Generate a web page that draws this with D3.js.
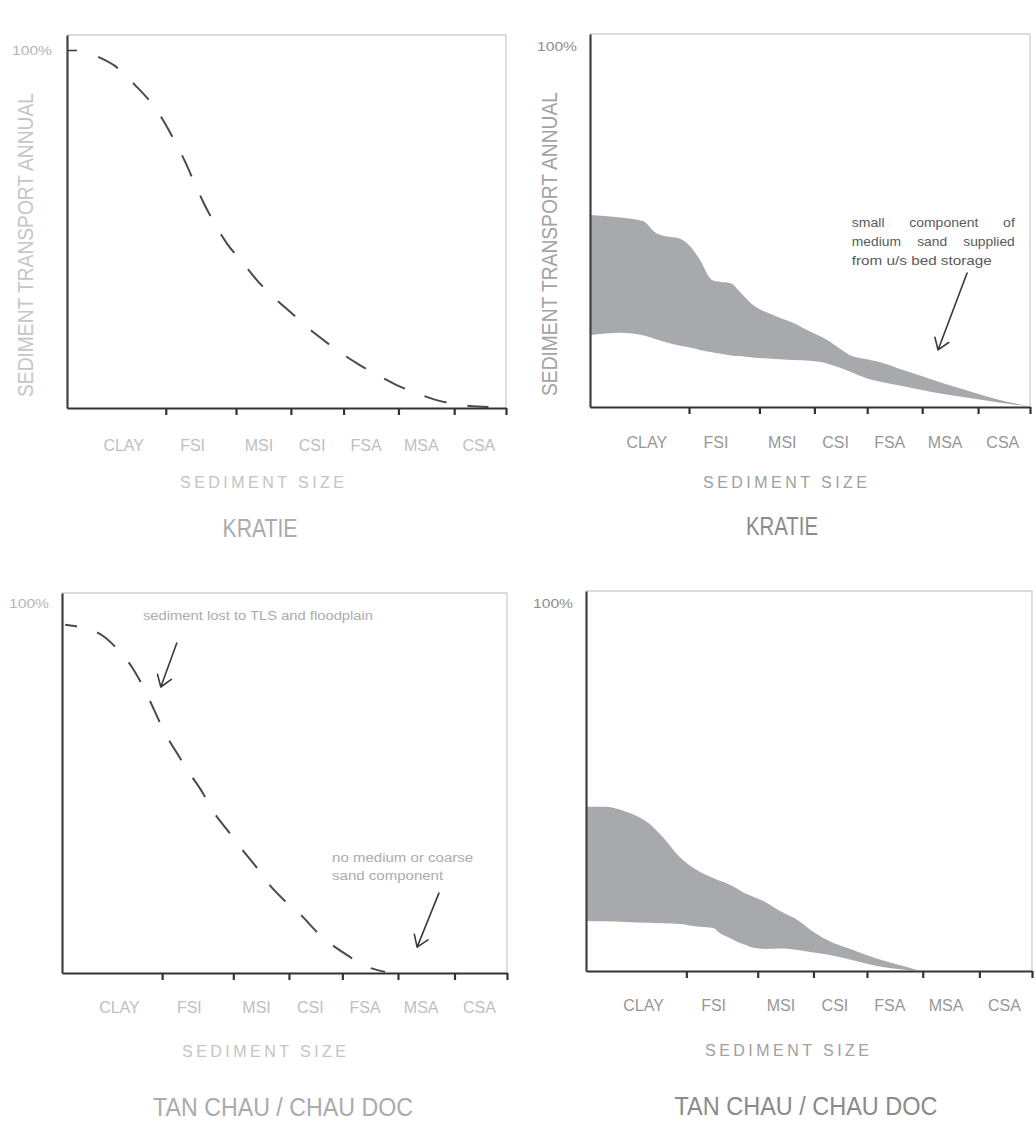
<!DOCTYPE html>
<html>
<head>
<meta charset="utf-8">
<script src="https://cdn.jsdelivr.net/npm/d3@7/dist/d3.min.js"></script>
<style>
  body { margin: 0; background: #fff; }
  svg text { font-family: "Liberation Sans", Arial, Helvetica, sans-serif; }
</style>
</head>
<body>
<svg id="chart" width="1036" height="1135"></svg>
<script>
// sediment size classes (x is a relative size scale 0..10)
const sizeClasses = ['CLAY', 'FSI', 'MSI', 'CSI', 'FSA', 'MSA', 'CSA'];
const classCentres = [1.28, 2.85, 4.36, 5.57, 6.8, 8.06, 9.37];
const classBreaks = [2.25, 3.85, 5.1, 6.3, 7.55, 8.82, 10];

// Kratie – natural annual transport (% by size), dashed
const kratieNatX = [0.71, 1.1, 1.55, 1.9, 2.19, 2.45, 2.69, 2.9, 3.1, 3.35, 3.64, 4.0, 4.32, 4.7, 5.08, 5.45, 5.84, 6.25, 6.67, 7.1, 7.51, 7.95, 8.42, 8.9, 9.37, 9.6];
const kratieNatY = [98.1, 95.5, 90.2, 85.5, 80.4, 74.6, 68.8, 63, 57.6, 51.8, 46.0, 40.7, 35.8, 31.0, 26.9, 22.8, 19.0, 15.3, 12.0, 9.0, 6.4, 4.2, 2.2, 1.0, 0.4, 0.3];

// Kratie – future range (band)
const kratieBandX  = [0, 0.7, 1.2, 1.5, 1.75, 2.0, 2.3, 2.5, 2.77, 2.95, 3.2, 3.4, 3.7, 4.2, 4.6, 5.0, 5.4, 5.7, 5.9, 6.3, 6.6, 7.1, 7.8, 8.4, 9.0, 9.5, 10];
const kratieBandHi = [53.2, 52.5, 51.5, 48.2, 47.2, 46.8, 44.2, 40.7, 35.2, 34.7, 34.3, 32.0, 28.3, 25.3, 23.4, 20.9, 18.5, 16.0, 14.4, 13.2, 12.4, 10.3, 7.5, 5.2, 3.0, 1.4, 0.2];
const kratieBandLo = [19.9, 20.6, 19.9, 18.8, 17.9, 17.1, 16.4, 15.8, 15.2, 14.8, 14.3, 14.1, 13.7, 13.3, 13.0, 12.8, 12.0, 10.8, 9.8, 7.9, 7.0, 5.8, 4.1, 2.9, 1.8, 0.9, 0.2];

// Tan Chau / Chau Doc – natural annual transport, dashed
const tanChauNatX = [0.07, 0.81, 1.24, 1.57, 1.84, 2.07, 2.29, 2.58, 2.85, 3.15, 3.39, 3.73, 4.02, 4.38, 4.65, 5.06, 5.39, 5.73, 6.07, 6.4, 6.76, 7.26];
const tanChauNatY = [94.1, 91.9, 87.6, 82.7, 77.0, 71.1, 65.4, 59.5, 54.3, 48.9, 43.8, 38.4, 33.8, 28.4, 24.0, 18.9, 15.4, 11.1, 7.6, 4.9, 2.2, 0.3];

// Tan Chau / Chau Doc – future range (band)
const tanChauBandX  = [0, 0.4, 0.9, 1.4, 1.75, 2.1, 2.55, 2.85, 3.0, 3.25, 3.4, 3.6, 3.75, 4.0, 4.35, 4.75, 5.1, 5.5, 5.85, 6.3, 6.8, 7.2, 7.45];
const tanChauBandHi = [44.6, 44.6, 43.3, 40.2, 36.0, 31.0, 27.0, 25.3, 24.5, 23.3, 22.3, 20.9, 20.2, 18.9, 16.3, 13.8, 10.6, 7.9, 6.3, 4.3, 2.4, 1.1, 0.2];
const tanChauBandLo = [13.6, 13.5, 13.3, 13.1, 13.0, 12.8, 12.0, 11.7, 10.3, 8.8, 7.9, 7.0, 6.3, 6.0, 6.1, 5.7, 5.0, 4.3, 3.3, 2.0, 0.8, 0.3, 0.2];

const tones = {
  light: { tick: '#c0c0c0', size: '#c4c4c4', title: '#ababab', yTitle: '#c6c6c6', pct: '#b5b5b5' },
  dark:  { tick: '#979797', size: '#a0a0a0', title: '#8a8a8a', yTitle: '#a3a3a3', pct: '#8c8c8c' }
};

const panels = [
  { x0: 67, x1: 506, top: 35, bottom: 408, y100: 50, tick100: true, tone: 'light',
    kind: 'line', xs: kratieNatX, ys: kratieNatY, dashOffset: 0,
    tickPad: 43, sizeY: 488, sizeX: 262, title: 'KRATIE', titleX: 260, titleY: 537, titleW: 75,
    yTitle: { x: 33, y: 245 },
    notes: [] },
  { x0: 590, x1: 1030, top: 34, bottom: 407, y100: 46, tick100: false, tone: 'dark',
    kind: 'band', xs: kratieBandX, hi: kratieBandHi, lo: kratieBandLo,
    tickPad: 41, sizeY: 488, sizeX: 785, title: 'KRATIE', titleX: 782, titleY: 535, titleW: 72,
    yTitle: { x: 557, y: 244 },
    notes: [
      { lines: ['small component of', 'medium sand supplied', 'from u/s bed storage'],
        widths: [163, 163, 140], wordSpacing: [20, 12, 0], x: 5.95, y: [49.9, 44.6, 39.3], size: 13.5, color: '#5a5a5a',
        arrow: [[8.57, 37.1], [7.91, 15.8]] }
    ] },
  { x0: 62, x1: 507, top: 593, bottom: 973, y100: 603, tick100: false, tone: 'light',
    kind: 'line', xs: tanChauNatX, ys: tanChauNatY, dashOffset: 11,
    tickPad: 40, sizeY: 1057, sizeX: 264, title: 'TAN CHAU / CHAU DOC', titleX: 283, titleY: 1116, titleW: 260,
    yTitle: null,
    notes: [
      { lines: ['sediment lost to TLS and floodplain'], widths: [230], wordSpacing: [0],
        x: 1.82, y: [95.4], size: 12.5, color: '#ababab', arrow: [[2.58, 89.2], [2.22, 77.3]] },
      { lines: ['no medium or coarse', 'sand component'], widths: [141, 111], wordSpacing: [0, 0],
        x: 6.07, y: [30.0, 25.1], size: 12.5, color: '#ababab', arrow: [[8.47, 21.6], [7.98, 7.0]] }
    ] },
  { x0: 586, x1: 1032, top: 591, bottom: 971, y100: 603, tick100: false, tone: 'dark',
    kind: 'band', xs: tanChauBandX, hi: tanChauBandHi, lo: tanChauBandLo,
    tickPad: 40, sizeY: 1056, sizeX: 787, title: 'TAN CHAU / CHAU DOC', titleX: 806, titleY: 1115, titleW: 263,
    yTitle: null,
    notes: [] }
];

const svg = d3.select('#chart');

function arrow(g, from, to) {
  const ang = Math.atan2(from[1] - to[1], from[0] - to[0]);
  const len = 13, spread = 0.6;
  const a1 = [to[0] + len * Math.cos(ang - spread), to[1] + len * Math.sin(ang - spread)];
  const a2 = [to[0] + len * Math.cos(ang + spread), to[1] + len * Math.sin(ang + spread)];
  g.append('path')
    .attr('d', `M${from}L${to}M${a1}L${to}L${a2}`)
    .attr('fill', 'none').attr('stroke', '#3a3a3a').attr('stroke-width', 1.6)
    .attr('stroke-linecap', 'round').attr('stroke-linejoin', 'round');
}

function drawPanel(p) {
  const tone = tones[p.tone];
  const g = svg.append('g');
  const x = d3.scaleLinear().domain([0, 10]).range([p.x0, p.x1]);
  const y = d3.scaleLinear().domain([0, 100]).range([p.bottom, p.y100]);

  // light frame (top + right)
  g.append('path')
    .attr('d', `M${p.x0},${p.top}H${p.x1}V${p.bottom}`)
    .attr('fill', 'none').attr('stroke', '#cfcfcf').attr('stroke-width', 1.3);

  // data mark
  if (p.kind === 'band') {
    const area = d3.area()
      .x((d, i) => x(p.xs[i]))
      .y0((d, i) => y(p.lo[i]))
      .y1((d, i) => y(p.hi[i]))
      .curve(d3.curveMonotoneX);
    g.append('path').datum(p.xs).attr('d', area).attr('fill', '#a8a9ad');
  } else {
    const line = d3.line()
      .x((d, i) => x(p.xs[i]))
      .y((d, i) => y(p.ys[i]))
      .curve(d3.curveMonotoneX);
    g.append('path').datum(p.xs).attr('d', line)
      .attr('fill', 'none').attr('stroke', '#4a4a4a').attr('stroke-width', 2)
      .attr('stroke-dasharray', '23,21').attr('stroke-dashoffset', p.dashOffset);
  }

  // left axis
  const yAxisScale = d3.scaleLinear().domain([0, y.invert(p.top)]).range([p.bottom, p.top]);
  const yAxis = g.append('g').attr('transform', `translate(${p.x0},0)`)
    .call(d3.axisLeft(yAxisScale).tickValues([100]).tickSizeOuter(0)
      .tickSizeInner(p.tick100 ? -10 : 0).tickPadding(p.tick100 ? 15 : 13)
      .tickFormat(d => d + '%'));
  yAxis.select('.domain').attr('stroke', '#404040').attr('stroke-width', 2.2);
  yAxis.selectAll('.tick line').attr('stroke', '#404040').attr('stroke-width', 1.6);
  yAxis.selectAll('.tick text').attr('fill', tone.pct).attr('font-size', 13.5)
    .attr('textLength', 40).attr('lengthAdjust', 'spacingAndGlyphs');

  // bottom axis with class boundaries
  const xAxis = g.append('g').attr('transform', `translate(0,${p.bottom})`)
    .call(d3.axisBottom(x).tickValues(classBreaks).tickSizeOuter(0).tickSizeInner(7).tickFormat(''));
  xAxis.select('.domain').attr('stroke', '#333').attr('stroke-width', 2.2);
  xAxis.selectAll('.tick line').attr('stroke', '#333').attr('stroke-width', 2.2);

  // class labels
  const labelAxis = g.append('g').attr('transform', `translate(0,${p.bottom})`)
    .call(d3.axisBottom(x).tickValues(classCentres).tickSize(0)
      .tickPadding(p.tickPad - 11.4).tickFormat((d, i) => sizeClasses[i]));
  labelAxis.select('.domain').remove();
  labelAxis.selectAll('.tick text').attr('fill', tone.tick).attr('font-size', 16)
    .attr('font-family', '"Liberation Sans", Arial, sans-serif');

  g.append('text').attr('x', p.sizeX).attr('y', p.sizeY).attr('text-anchor', 'middle')
    .attr('fill', tone.size).attr('font-size', 16)
    .attr('textLength', 164).attr('lengthAdjust', 'spacing')
    .text('SEDIMENT SIZE');

  g.append('text').attr('x', p.titleX).attr('y', p.titleY).attr('text-anchor', 'middle')
    .attr('fill', tone.title).attr('font-size', 25)
    .attr('textLength', p.titleW).attr('lengthAdjust', 'spacingAndGlyphs')
    .text(p.title);

  if (p.yTitle) {
    g.append('text')
      .attr('transform', `translate(${p.yTitle.x},${p.yTitle.y}) rotate(-90)`)
      .attr('text-anchor', 'middle').attr('fill', tone.yTitle).attr('font-size', 22)
      .attr('textLength', 304).attr('lengthAdjust', 'spacingAndGlyphs')
      .text('SEDIMENT TRANSPORT ANNUAL');
  }

  p.notes.forEach(n => {
    n.lines.forEach((t, i) => {
      g.append('text').attr('x', x(n.x)).attr('y', y(n.y[i]))
        .attr('fill', n.color).attr('font-size', n.size)
        .attr('word-spacing', n.wordSpacing[i])
        .attr('textLength', n.widths[i]).attr('lengthAdjust', 'spacingAndGlyphs')
        .text(t);
    });
    arrow(g, [x(n.arrow[0][0]), y(n.arrow[0][1])], [x(n.arrow[1][0]), y(n.arrow[1][1])]);
  });
}

panels.forEach(drawPanel);
</script>
</body>
</html>
